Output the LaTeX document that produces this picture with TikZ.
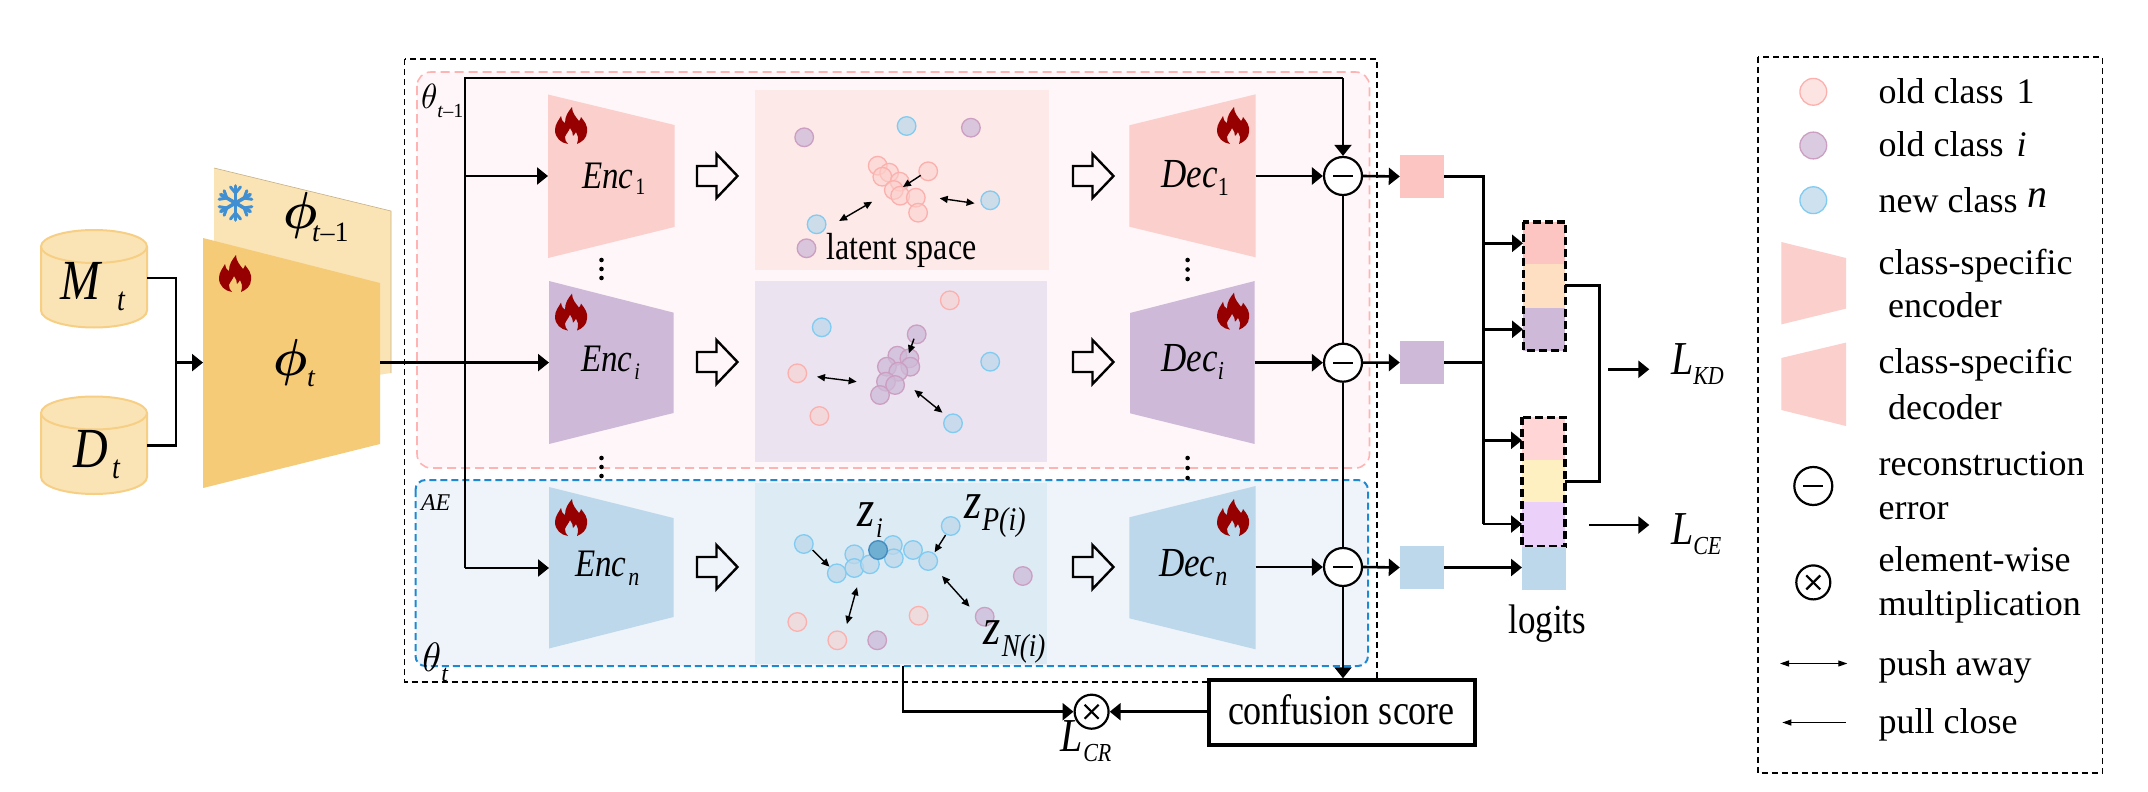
\documentclass[tikz,border=0pt]{standalone}
\usepackage{graphicx}
\usepackage{fontspec}
\setmainfont{Liberation Serif}
\usetikzlibrary{arrows.meta}
\definecolor{cpink}{HTML}{FBCFCB}
\definecolor{cpurple}{HTML}{CEBAD8}
\definecolor{cblue}{HTML}{BDD8EA}
\definecolor{cflame}{HTML}{960000}
\definecolor{snowc}{HTML}{3F8FD2}
\definecolor{cream}{HTML}{FAE4B5}
\definecolor{creamline}{HTML}{F6CF85}
\definecolor{phicol}{HTML}{F5CB78}
\definecolor{boxpink}{HTML}{FFF6F9}
\definecolor{linepink}{HTML}{FFB4B4}
\definecolor{boxblue}{HTML}{EFF4FB}
\definecolor{lineblue}{HTML}{1E88D2}
\definecolor{zdark}{HTML}{6FAFD2}
\definecolor{zline}{HTML}{468CBE}
\definecolor{stA}{HTML}{FCC5C2}
\definecolor{stB}{HTML}{FEDFC1}
\definecolor{stC}{HTML}{FFD5D5}
\definecolor{stD}{HTML}{FFF0C2}
\definecolor{stE}{HTML}{EBD0F9}
\newcommand{\fsz}[1]{\fontsize{#1}{#1}\selectfont}
\newcommand{\vst}[1]{\scalebox{1}[1.18]{#1}}
\newcommand{\sublab}[6]{\vst{\fsz{#2}\textit{#1}}\hspace{#3pt}\raisebox{-#6pt}{\vst{\fsz{#5}\textit{#4}}}}
\newcommand{\subup}[6]{\vst{\fsz{#2}\textit{#1}}\hspace{#3pt}\raisebox{-#6pt}{\vst{\fsz{#5}#4}}}
\tikzset{
  x=1pt,y=-1pt,
  lbl/.style={anchor=base west,inner sep=0pt,outer sep=0pt,text=black},
  mainline/.style={line width=2.6pt,draw=black},
  arr/.style={mainline,-{Triangle[length=11pt,width=17pt]}},
  thinarr/.style={line width=2pt,draw=black,-{Triangle[length=11pt,width=17pt]}},
  push/.style={line width=1.4pt,{Triangle[length=8pt,width=7pt]}-{Triangle[length=8pt,width=7pt]}},
  pull/.style={line width=1.4pt,-{Triangle[length=8pt,width=7pt]}},
  dotpink/.style={fill=cpink,draw=cpink!85!red,line width=1.3pt,fill opacity=.55},
  dotpurple/.style={fill=cpurple,draw=cpurple!85!purple,line width=1.3pt,fill opacity=.75},
  dotblue/.style={fill=cblue,draw=cblue!75!cyan!90!blue,line width=1.3pt,fill opacity=.75},
  minuscirc/.style={circle,draw=black,fill=white,line width=2.2pt,minimum size=38pt,inner sep=0pt,
    path picture={\draw[line width=2.4pt] ([xshift=-10pt]path picture bounding box.center) -- ([xshift=10pt]path picture bounding box.center);}},
  timescirc/.style={circle,draw=black,fill=white,line width=2.2pt,minimum size=34pt,inner sep=0pt,
    path picture={\draw[line width=2.2pt] ([xshift=-7pt,yshift=-7pt]path picture bounding box.center) -- ([xshift=7pt,yshift=7pt]path picture bounding box.center);
      \draw[line width=2.2pt] ([xshift=-7pt,yshift=7pt]path picture bounding box.center) -- ([xshift=7pt,yshift=-7pt]path picture bounding box.center);}},
  square/.style={minimum width=44pt,minimum height=43pt,inner sep=0pt,draw=none},
  stackdash/.style={draw=black,line width=3.4pt,dash pattern=on 8pt off 4pt},
  flamemark/.pic={
    \fill[cflame] (-3,18) .. controls (-10,17) and (-16,12) .. (-16,4)
      .. controls (-16,-2) and (-12,-6) .. (-10,-10)
      .. controls (-9,-5) and (-8,-4) .. (-6,-3)
      .. controls (-6,-10) and (-3,-14) .. (1,-19)
      .. controls (1,-13) and (5,-9) .. (8,-5)
      .. controls (9,-6) and (10,-8) .. (10,-9)
      .. controls (14,-4) and (17,0) .. (16,6)
      .. controls (16,12) and (11,16) .. (6,18)
      .. controls (8,12) and (7,9) .. (5,6)
      .. controls (4,8) and (3,9) .. (2,10)
      .. controls (2,7) and (1,5) .. (-1,2)
      .. controls (-2,5) and (-5,8) .. (-6,11)
      .. controls (-6,14) and (-5,16) .. (-3,18) -- cycle;
  },
  blockarrow/.pic={
    \draw[line width=2.4pt,miter limit=10] (0,-10) -- (19.5,-10) -- (19.5,-22) -- (40.5,0) -- (19.5,22) -- (19.5,10) -- (0,10) -- cycle;
  },
  snowmark/.pic={
    \foreach \a in {30,90,150,210,270,330}{
      \begin{scope}[rotate=\a]
        \draw[color=snowc,line width=3.6pt,line cap=round] (0,0) -- (17,0);
        \draw[color=snowc,line width=3pt,line cap=round] (10,0) -- (16,5);
        \draw[color=snowc,line width=3pt,line cap=round] (10,0) -- (16,-5);
      \end{scope}
    }
  },
}
\begin{document}
\begin{tikzpicture}
\useasboundingbox (0,0) rectangle (2148,792);
\fill[white] (0,0) rectangle (2148,792);

% outer boxes
\draw[line width=1.6pt,dash pattern=on 6pt off 4pt] (404.5,59) rectangle (1377,682);
\draw[fill=boxpink,draw=linepink,line width=1.6pt,dash pattern=on 9pt off 5pt,rounded corners=14pt] (417,72) rectangle (1369.5,468);
\draw[fill=boxblue,draw=lineblue,line width=2pt,dash pattern=on 7pt off 4pt,rounded corners=10pt] (415.5,480) rectangle (1368,666);

% datasets
\foreach \yy in {246.5,413}{
  \draw[fill=cream,draw=creamline,line width=2pt]
    (41,\yy) -- (41,\yy+64) arc[start angle=180,end angle=360,x radius=53pt,y radius=17pt] -- (147,\yy) ;
  \draw[fill=cream,draw=creamline,line width=2pt] (94,\yy) ellipse[x radius=53pt,y radius=16.5pt];
}
\node[lbl] (lm) at (60,299.5) {\sublab{M}{48}{15}{t}{28}{11}};
\node[lbl] (ld) at (73.5,467) {\sublab{D}{48}{4}{t}{28}{11}};

% feature extractors
\fill[cream] (214,168) -- (391,211) -- (391,373) -- (214,400) -- cycle;
\draw[line width=.6pt,draw=creamline!60!gray] (214,168) -- (391,211) -- (391,373);
\fill[phicol] (203,238) -- (380,283) -- (380,444) -- (203,488) -- cycle;
\pic at (235.5,203) {snowmark};
\pic at (235,274) {flamemark};
\node[lbl] (lphiold) at (283,228.5) {\scalebox{4.8}[5.2]{\boldmath$\phi$}\hspace{-5pt}\raisebox{-12.5pt}{\fsz{28}\textit{t}–1}};
\node[lbl] (lphi) at (273,375) {\scalebox{4.8}[5.2]{\boldmath$\phi$}\hspace{0pt}\raisebox{-11pt}{\fsz{28}\textit{t}}};

\coordinate (mout) at (147,278);
\coordinate (dout) at (147,445.5);
\coordinate (merge) at (176,362.6);
\coordinate (phiin) at (203,362.6);
\coordinate (phiout) at (380,362.6);
\draw[mainline] (mout) -| (merge);
\draw[mainline] (dout) -| (merge);
\draw[arr] (merge) -- (phiin);

% labels in boxes
\node[lbl] (ltold) at (421,108.6) {\scalebox{3.3}[3.5]{$\theta$}\raisebox{-8.5pt}{\fsz{20}\textit{t}–1}};
\node[lbl] (ltnew) at (422.4,671.7) {\scalebox{3.8}[4.1]{$\theta$}\raisebox{-10pt}{\fsz{24}\textit{t}}};
\node[lbl] (lae) at (421,510) {\fsz{24}\textit{AE}};

% encoders
\fill[cpink] (548,94.5) -- (674.5,125) -- (674.5,227) -- (548,258) -- cycle;
\fill[cpurple] (549,281) -- (673.5,312.6) -- (673.5,413) -- (549,444) -- cycle;
\fill[cblue] (549,487) -- (673.5,518) -- (673.5,617) -- (549,648.5) -- cycle;
\pic at (571,126) {flamemark};
\pic at (571,312.6) {flamemark};
\pic at (571,518) {flamemark};
\node[lbl] (le1) at (582,188) {\subup{Enc}{33}{2}{1}{20}{6.5}};
\node[lbl] (lei) at (581,371) {\sublab{Enc}{33}{2}{i}{20}{8}};
\node[lbl] (len) at (575,576) {\sublab{Enc}{33}{2}{n}{22}{9}};
\foreach \yy in {260,269,278,458,467,476}{\fill (601.5,\yy) circle[radius=2.3pt];}

% decoders
\fill[cpink] (1129.3,125.3) -- (1255.6,94.3) -- (1255.6,257.3) -- (1129.3,226.7) -- cycle;
\fill[cpurple] (1130,313) -- (1254.7,281) -- (1254.7,444) -- (1130,413.3) -- cycle;
\fill[cblue] (1129.3,517.3) -- (1255.6,486) -- (1255.6,649.3) -- (1129.3,618.3) -- cycle;
\pic at (1233,126) {flamemark};
\pic at (1233,311.7) {flamemark};
\pic at (1233,518) {flamemark};
\node[lbl] (ld1) at (1161.4,187.3) {\subup{Dec}{35}{0}{1}{22}{8}};
\node[lbl] (ldi) at (1161.4,371) {\sublab{Dec}{35}{0}{i}{22}{8}};
\node[lbl] (ldn) at (1159,576) {\sublab{Dec}{35}{0}{n}{24}{9}};
\foreach \yy in {260,269.5,279,458,468,478}{\fill (1187.6,\yy) circle[radius=2.3pt];}

% block arrows
\foreach \yy in {176,362,567}{
  \pic at (697,\yy) {blockarrow};
  \pic at (1073,\yy) {blockarrow};
}

% latent panels
\fill[cpink!45!white] (755,90) rectangle (1049,270);
\fill[cpurple!40!white] (755,281) rectangle (1047,461.7);
\fill[cblue!52!white] (755,483) rectangle (1047,664);

% panel 1 points
\foreach \x/\y in {877.7/165.7,889.2/172.7,882.3/176.7,899.7/181.7,928.2/171.3,893.8/190,900.2/195.7,915.8/197.7,918.1/212.7}
  \path[dotpink] (\x,\y) circle[radius=9.3pt];
\foreach \x/\y in {804.2/137.3,970.9/127.7,806.5/248.3}
  \path[dotpurple] (\x,\y) circle[radius=9.3pt];
\foreach \x/\y in {906.6/126,990.2/200.3,816.6/224.3}
  \path[dotblue] (\x,\y) circle[radius=9.3pt];
\draw[pull] (920.8,175.3) coordinate (p1a) -- (902.9,187) coordinate (p1b);
\draw[push] (872.2,201.7) coordinate (p1c) -- (839.1,221) coordinate (p1d);
\draw[push] (939.7,198.3) coordinate (p1e) -- (974.6,203.3) coordinate (p1f);
\node[lbl] (llatent) at (826.3,259) {\vst{\fsz{32}latent space}};

% panel 2 points
\foreach \x/\y in {949.8/300.3,797.3/373.3,819.4/416}
  \path[dotpink] (\x,\y) circle[radius=9.3pt];
\foreach \x/\y in {916.7/334.3,897.4/355.7,909.4/358.3,886.9/366.7,910.3/366.7,898.3/371.7,886/381.7,895.1/385,880/395}
  \path[dotpurple] (\x,\y) circle[radius=9.3pt];
\foreach \x/\y in {821.7/327.3,990.2/361.7,953/423.3}
  \path[dotblue] (\x,\y) circle[radius=9.3pt];
\draw[pull] (914,338.7) coordinate (p2a) -- (908.9,353.3) coordinate (p2b);
\draw[push] (817,376.7) coordinate (p2c) -- (856.6,381.7) coordinate (p2d);
\draw[push] (914.4,390) coordinate (p2e) -- (942.4,412.7) coordinate (p2f);

% panel 3 points
\foreach \x/\y in {797.3/622,837.3/640.3,918.6/615.7}
  \path[dotpink] (\x,\y) circle[radius=9.3pt];
\foreach \x/\y in {1022.8/576,984.7/616.7,877.2/640.3}
  \path[dotpurple] (\x,\y) circle[radius=9.3pt];
\foreach \x/\y in {803.8/544,836.8/573.3,854.3/554.3,854.3/568,869.9/564.3,892.8/545,893.8/558.3,913/550,928.2/561,950.7/526}
  \path[dotblue] (\x,\y) circle[radius=9.3pt];
\path[fill=zdark,draw=zline,line width=1.4pt] (878.1,550) circle[radius=9.3pt];
\draw[pull] (812.5,550) coordinate (p3a) -- (829.5,566.7) coordinate (p3b);
\draw[pull] (945.6,535) coordinate (p3c) -- (934.6,552.3) coordinate (p3d);
\draw[push] (857,587.3) coordinate (p3e) -- (846.9,624) coordinate (p3f);
\draw[push] (942,576) coordinate (p3g) -- (969.5,606.7) coordinate (p3h);
\node[lbl] (lzi) at (857,526) {\sublab{z}{44}{2}{i}{24}{11}};
\node[lbl] (lzp) at (964,518) {\sublab{z}{44}{1}{P(i)}{28}{12}};
\node[lbl] (lzn) at (983.7,644) {\sublab{z}{44}{1}{N(i)}{27}{12.7}};

% error circles and flow
\node[minuscirc] (c1) at (1343,176) {};
\node[minuscirc] (c2) at (1343,362.7) {};
\node[minuscirc] (c3) at (1343,567) {};
\node[square,fill=stA] (s1) at (1422,176.5) {};
\node[square,fill=cpurple] (s2) at (1422,362.5) {};
\node[square,fill=cblue] (s3) at (1422,567.5) {};
\coordinate (backtop) at (465,78);
\coordinate (backbot) at (465,568);
\coordinate (b1) at (465,176);
\coordinate (b2) at (465,362.6);
\coordinate (e1in) at (548,176);
\coordinate (e2in) at (549,362.6);
\coordinate (e3in) at (549,568);
\coordinate (topcorner) at (1343,78);
\draw[line width=2.8pt] (backbot) -- (backtop) -- (topcorner);
\draw[thinarr] (topcorner) -- (c1.north);
\draw[arr] (b1) -- (e1in);
\draw[arr] (phiout) -- (e2in);
\draw[arr] (backbot) -- (e3in);
\coordinate (d1out) at (1255.6,176);
\coordinate (d2out) at (1254.7,362.7);
\coordinate (d3out) at (1255.6,567);
\draw[arr] (d1out) -- (c1.west);
\draw[arr] (d2out) -- (c2.west);
\draw[arr] (d3out) -- (c3.west);
\draw[arr] (c1.east) -- (s1.west);
\draw[arr] (c2.east) -- (s2.west);
\draw[arr] (c3.east) -- (s3.west);
\draw[line width=2pt] (c1.south) -- (c2.north);
\draw[line width=2pt] (c2.south) -- (c3.north);

% confusion
\node[draw=black,line width=3.4pt,fill=white,minimum width=266pt,minimum height=65pt,inner sep=0pt] (conf) at (1342,712.5) {};
\node[lbl] (lconf) at (1228,724) {\vst{\fsz{36}confusion score}};
\draw[thinarr] (c3.south) -- (c3.south |- conf.north);
\node[timescirc] (mul) at (1091.6,711.7) {};
\coordinate (p3out) at (903,666);
\draw[arr] (p3out) |- (mul.west);
\draw[arr] (conf.west |- mul.east) -- (mul.east);
\node[lbl] (lcr) at (1060,751.7) {\sublab{L}{40}{1}{CR}{22}{10}};

% logits
\fill[stA] (1523.3,222) rectangle (1565.3,264);
\fill[stB] (1523.3,264) rectangle (1565.3,308);
\fill[cpurple] (1523.3,308) rectangle (1565.3,350.7);
\draw[stackdash] (1523.3,222) rectangle (1565.3,350.7);
\fill[stC] (1522,417.3) rectangle (1565,460);
\fill[stD] (1522,460) rectangle (1565,502);
\fill[stE] (1522,502) rectangle (1565,546.7);
\draw[stackdash] (1522,417.3) rectangle (1565,546.7);
\fill[cblue] (1522,546.7) rectangle (1566,590);
\node[lbl] (llog) at (1508.3,633) {\vst{\fsz{35}logits}};

\coordinate (v1) at (1483.3,176.5);
\coordinate (v4) at (1483.3,524);
\coordinate (a1) at (1523,243.3);
\coordinate (a2) at (1523,329.3);
\coordinate (a3) at (1522,440.3);
\coordinate (a4) at (1522,524);
\coordinate (a5) at (1522,567.5);
\draw[mainline] (s1.east) -- (v1) -- (v4);
\draw[mainline] (s2.east) -- (v1 |- s2.east);
\draw[arr] (v1 |- a1) -- (a1);
\draw[arr] (v1 |- a2) -- (a2);
\draw[arr] (v1 |- a3) -- (a3);
\draw[arr] (v4) -- (a4);
\draw[arr] (s3.east) -- (a5);
\coordinate (m1) at (1565.3,285.7);
\coordinate (m2) at (1565,481.7);
\draw[line width=3.4pt] (m1) -- (1599.3,285.7) coordinate (mc1) -- (1599.3,481.7) coordinate (mc2) -- (m2);
\coordinate (kds) at (1608,369.3);
\coordinate (kde) at (1649.3,369.3);
\coordinate (ces) at (1589,525);
\coordinate (cee) at (1649.3,525);
\draw[arr] (kds) -- (kde);
\draw[arr] (ces) -- (cee);
\node[lbl] (lkd) at (1671,374) {\sublab{L}{40}{0}{KD}{22}{10}};
\node[lbl] (lce) at (1671,544) {\sublab{L}{40}{0}{CE}{22}{10}};

% legend
\draw[line width=1.6pt,dash pattern=on 6pt off 4pt] (1757.7,56.8) rectangle (2102.3,772.9);
\path[dotpink] (1813.3,91.8) circle[radius=13.4pt];
\path[dotpurple] (1813.3,145.5) circle[radius=13.4pt];
\path[dotblue] (1813.3,200.2) circle[radius=13.4pt];
\fill[cpink] (1781.3,242) -- (1846,258) -- (1846,308.6) -- (1781.3,324.4) -- cycle;
\fill[cpink] (1781.3,358) -- (1846,342.6) -- (1846,426) -- (1781.3,410) -- cycle;
\node[minuscirc] (lgminus) at (1813.3,486) {};
\node[timescirc] (lgtimes) at (1813.3,582.4) {};
\coordinate (pa) at (1780,663.5);
\coordinate (pb) at (1847.3,663.5);
\coordinate (qa) at (1845.7,722.5);
\coordinate (qb) at (1782.3,722.5);
\draw[line width=1pt,{Triangle[length=9pt,width=6pt]}-{Triangle[length=9pt,width=6pt]}] (pa) -- (pb);
\draw[line width=1pt,-{Triangle[length=9pt,width=6pt]}] (qa) -- (qb);
\node[lbl] (t1) at (1878.7,103.8) {\fsz{36}old class\hspace{13pt}1};
\node[lbl] (t2) at (1878.7,156.5) {\fsz{36}old class\hspace{13pt}\textit{i}};
\node[lbl] (t3) at (1878.7,212.7) {\fsz{36}new class\hspace{10pt}\raisebox{5pt}{\fsz{40}\textit{n}}};
\node[lbl] (t4) at (1878.7,274) {\fsz{36}class-specific};
\node[lbl] (t5) at (1888,317) {\fsz{36}encoder};
\node[lbl] (t6) at (1878.7,373.3) {\fsz{36}class-specific};
\node[lbl] (t7) at (1888,419) {\fsz{36}decoder};
\node[lbl] (t8) at (1878.7,475.5) {\fsz{36}reconstruction};
\node[lbl] (t9) at (1878.7,519.6) {\fsz{36}error};
\node[lbl] (t10) at (1878.7,571.4) {\fsz{36}element-wise};
\node[lbl] (t11) at (1878.7,615.5) {\fsz{36}multiplication};
\node[lbl] (t12) at (1878.7,675.5) {\fsz{36}push away};
\node[lbl] (t13) at (1878.7,733) {\fsz{36}pull close};
\end{tikzpicture}
\end{document}
